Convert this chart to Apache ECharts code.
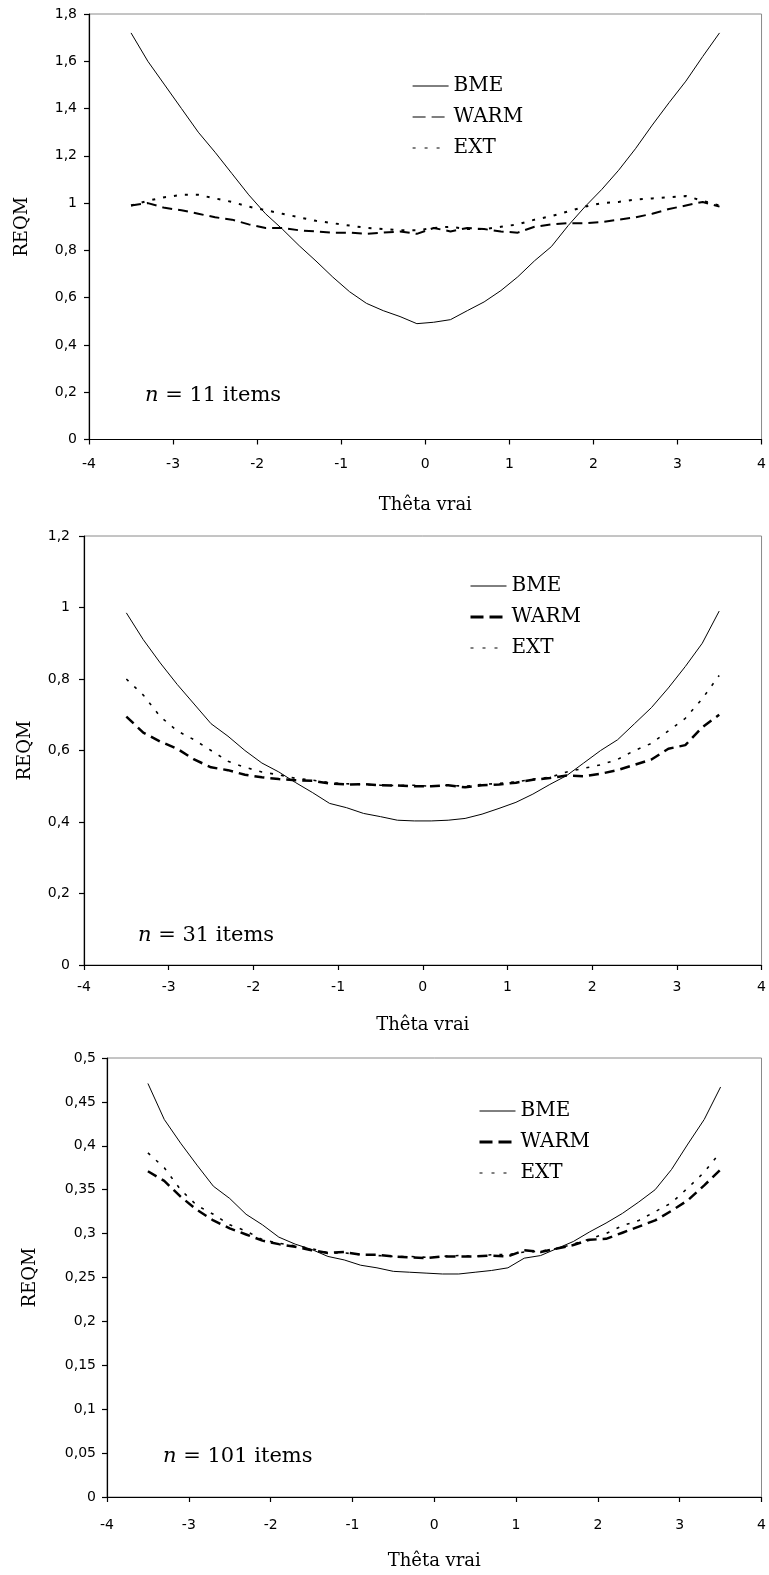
<!DOCTYPE html>
<html>
<head>
<meta charset="utf-8">
<script src="https://cdn.jsdelivr.net/npm/echarts@6/dist/echarts.min.js"></script>
<style>
html,body{margin:0;padding:0;background:#fff;}
#c1,#c2,#c3{position:absolute;left:0;width:769px;}
#c1{top:0;height:520px;}
#c2{top:520px;height:520px;}
#c3{top:1040px;height:535px;}
</style>
</head>
<body>
<div id="c1"></div>
<div id="c2"></div>
<div id="c3"></div>
<script>
// ---- data ----
const theta = [-3.5,-3.3,-3.1,-2.9,-2.7,-2.5,-2.3,-2.1,-1.9,-1.7,-1.5,-1.3,-1.1,-0.9,-0.7,-0.5,-0.3,-0.1,
               0.1,0.3,0.5,0.7,0.9,1.1,1.3,1.5,1.7,1.9,2.1,2.3,2.5,2.7,2.9,3.1,3.3,3.5];
const xTicks = [-4,-3,-2,-1,0,1,2,3,4];
const seriesNames = ['BME','WARM','EXT'];
const nLabels = ['11','31','101'];

// n = 11 items
const bme11  = [1.72,1.60,1.50,1.40,1.30,1.215,1.125,1.035,0.955,0.89,0.82,0.755,0.687,0.625,0.576,0.545,0.52,0.49,
                0.496,0.507,0.545,0.582,0.63,0.688,0.756,0.816,0.905,0.985,1.058,1.139,1.23,1.33,1.425,1.516,1.62,1.72];
const warm11 = [0.99,1.0,0.98,0.97,0.955,0.94,0.93,0.91,0.895,0.895,0.885,0.88,0.875,0.875,0.87,0.875,0.88,0.87,
                0.895,0.88,0.895,0.89,0.88,0.875,0.9,0.91,0.915,0.915,0.92,0.93,0.94,0.955,0.975,0.99,1.005,0.985];
const ext11  = [0.99,1.01,1.025,1.035,1.035,1.02,1.005,0.985,0.97,0.955,0.94,0.925,0.915,0.905,0.895,0.89,0.885,0.885,
                0.895,0.9,0.89,0.89,0.9,0.91,0.93,0.945,0.965,0.985,1.0,1.005,1.015,1.02,1.025,1.03,1.01,0.99];

// n = 31 items
const bme31  = [0.985,0.91,0.845,0.785,0.73,0.675,0.64,0.60,0.565,0.54,0.51,0.482,0.452,0.44,0.424,0.415,0.405,0.403,
                0.403,0.405,0.41,0.422,0.438,0.455,0.478,0.505,0.53,0.565,0.60,0.63,0.675,0.72,0.775,0.835,0.90,0.99];
const warm31 = [0.695,0.65,0.625,0.605,0.575,0.553,0.545,0.532,0.525,0.52,0.517,0.515,0.508,0.505,0.506,0.503,0.502,0.50,
                0.50,0.503,0.497,0.503,0.505,0.51,0.518,0.523,0.53,0.528,0.535,0.545,0.56,0.575,0.605,0.615,0.665,0.70];
const ext31  = [0.80,0.755,0.695,0.655,0.63,0.60,0.57,0.553,0.54,0.532,0.522,0.517,0.51,0.507,0.505,0.503,0.502,0.503,
                0.50,0.503,0.50,0.505,0.508,0.512,0.52,0.525,0.54,0.55,0.56,0.575,0.60,0.62,0.655,0.69,0.745,0.81];

// n = 101 items
const bme101  = [0.471,0.43,0.403,0.378,0.354,0.34,0.322,0.31,0.296,0.288,0.282,0.274,0.27,0.264,0.261,0.257,0.256,0.255,
                 0.254,0.254,0.256,0.258,0.261,0.272,0.275,0.283,0.291,0.302,0.312,0.323,0.336,0.35,0.373,0.402,0.43,0.467];
const warm101 = [0.371,0.36,0.342,0.327,0.315,0.306,0.299,0.292,0.288,0.285,0.281,0.278,0.279,0.276,0.276,0.274,0.273,0.272,
                 0.274,0.274,0.274,0.275,0.274,0.281,0.279,0.283,0.287,0.293,0.294,0.301,0.308,0.315,0.326,0.338,0.355,0.373];
const ext101  = [0.392,0.375,0.35,0.332,0.322,0.31,0.303,0.293,0.289,0.286,0.283,0.278,0.278,0.276,0.275,0.274,0.274,0.273,
                 0.274,0.275,0.274,0.276,0.276,0.279,0.28,0.283,0.288,0.294,0.30,0.309,0.315,0.325,0.335,0.352,0.37,0.393];

// y-axis ranges
const yMax = [1.8, 1.2, 0.5];
const yStep = [0.2, 0.2, 0.05];

// ---- build ----
const SANS = 'DejaVu Sans';
const SERIF = 'DejaVu Serif';
const HIDDEN = {color:'rgba(0,0,0,0)', borderColor:'rgba(0,0,0,0)', borderWidth:0, opacity:0};

function pairs(ys){ return theta.map((t,i)=>[t, ys[i]]); }
function fmtY(v){ return String(+v.toFixed(2)).replace('.', ','); }

function makeOption(cfg){
  const series = [
    {name:'BME', data:pairs(cfg.vals[0]), lineStyle:{color:'#000', width:1, type:'solid'}},
    {name:'WARM', data:pairs(cfg.vals[1]), lineStyle:{color:'#000', width:cfg.warmW, type:[10,6]}},
    {name:'EXT', data:pairs(cfg.vals[2]), lineStyle:{color:'#000', width:cfg.extW, type:[3,8]}}
  ].map(s=>Object.assign(s,{type:'line', symbol:'none', smooth:false, silent:true, itemStyle:{color:'#000'}}));
  return {
    animation:false,
    backgroundColor:'#fff',
    title:{
      text:'{i|n} = ' + cfg.n + ' items',
      left:cfg.nPos[0], top:cfg.nPos[1], padding:0,
      textStyle:{fontFamily:SERIF, fontSize:21, fontWeight:'normal', color:'#000',
        rich:{i:{fontFamily:SERIF, fontStyle:'italic', fontSize:21, color:'#000'}}}
    },
    legend:{
      orient:'vertical', left:cfg.legPos[0], top:cfg.legPos[1], padding:0,
      itemWidth:36, itemHeight:15, itemGap:11,
      itemStyle:HIDDEN,
      textStyle:{fontFamily:SERIF, fontSize:20, color:'#000', lineHeight:20},
      data:[
        {name:'BME', itemStyle:HIDDEN, lineStyle:{color:'#000', width:1, type:'solid', opacity:1}},
        {name:'WARM', itemStyle:HIDDEN, lineStyle:{color:'#000', width:cfg.legWarmW, type:[13,6], opacity:1}},
        {name:'EXT', itemStyle:HIDDEN, lineStyle:{color:'#000', width:1.2, type:[3,9], opacity:1}}
      ],
      selectedMode:false
    },
    grid:{left:cfg.grid[0], top:cfg.grid[1], right:cfg.grid[2], bottom:cfg.grid[3],
          show:true, borderColor:'#8a8a8a', borderWidth:1, backgroundColor:'#fff'},
    xAxis:{
      type:'value', min:-4, max:4, interval:1,
      name:'Thêta vrai', nameLocation:'middle', nameGap:cfg.xNameGap,
      nameTextStyle:{fontFamily:SERIF, fontSize:18, color:'#000'},
      axisLine:{show:true, onZero:false, lineStyle:{color:'#000', width:1.2}},
      axisTick:{show:true, inside:false, length:5, lineStyle:{color:'#000', width:1.2}},
      axisLabel:{fontFamily:SANS, fontSize:14, color:'#000', margin:cfg.xLabMargin,
                 formatter:v=>String(v), customValues:xTicks},
      splitLine:{show:false}
    },
    yAxis:{
      type:'value', min:0, max:cfg.yMax, interval:cfg.yStep,
      name:'REQM', nameLocation:'middle', nameGap:cfg.yNameGap, nameRotate:90,
      nameTextStyle:{fontFamily:SERIF, fontSize:18, color:'#000'},
      axisLine:{show:true, onZero:false, lineStyle:{color:'#000', width:1.2}},
      axisTick:{show:true, inside:false, length:5, lineStyle:{color:'#000', width:1.2}},
      axisLabel:{fontFamily:SANS, fontSize:14, color:'#000', margin:cfg.yLabMargin, formatter:fmtY},
      splitLine:{show:false}
    },
    series:series
  };
}

const cfgs = [
  {el:'c1', vals:[bme11,warm11,ext11], n:nLabels[0], yMax:yMax[0], yStep:yStep[0],
   grid:[89,14,3,80.5], legPos:[412,76], nPos:[145,385], warmW:2, extW:2, legWarmW:1.2,
   xNameGap:57, yNameGap:58, xLabMargin:18, yLabMargin:12},
  {el:'c2', vals:[bme31,warm31,ext31], n:nLabels[1], yMax:yMax[1], yStep:yStep[1],
   grid:[84,16,3,75], legPos:[469,56], nPos:[138,405], warmW:2.5, extW:1.6, legWarmW:3,
   xNameGap:51, yNameGap:50, xLabMargin:15, yLabMargin:14},
  {el:'c3', vals:[bme101,warm101,ext101], n:nLabels[2], yMax:yMax[2], yStep:yStep[2],
   grid:[107,18,7.5,76], legPos:[478,61], nPos:[163,406], warmW:2.5, extW:1.6, legWarmW:3,
   xNameGap:55, yNameGap:68, xLabMargin:21, yLabMargin:11}
];

cfgs.forEach(cfg=>{
  const chart = echarts.init(document.getElementById(cfg.el), null, {renderer:'canvas'});
  chart.setOption(makeOption(cfg));
});
</script>
</body>
</html>
